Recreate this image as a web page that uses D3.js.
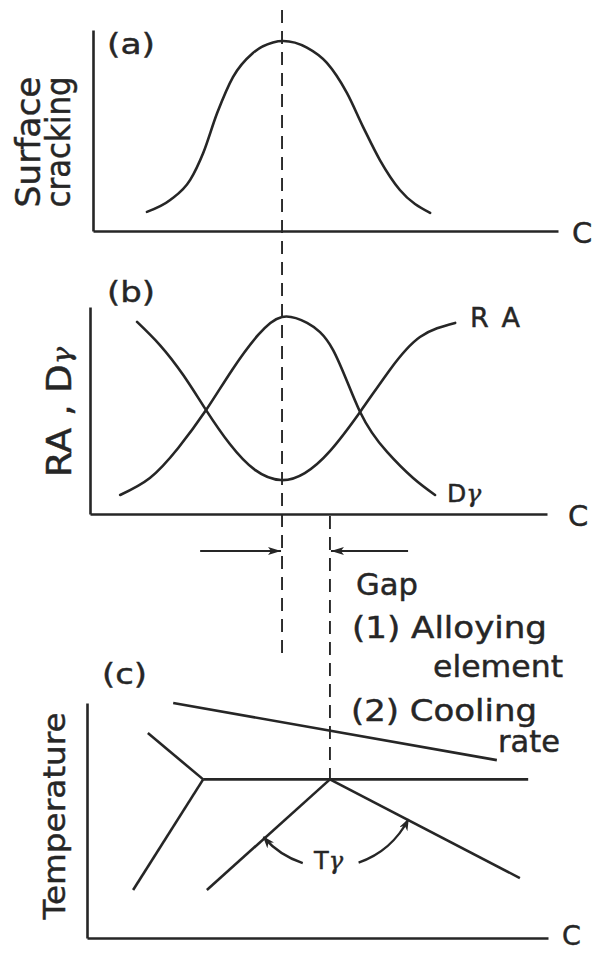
<!DOCTYPE html>
<html>
<head>
<meta charset="utf-8">
<script src="https://cdn.jsdelivr.net/npm/d3@7"></script>
<style>
  html, body { margin: 0; padding: 0; background: #fff; }
  svg { display: block; }
  text { font-family: "DejaVu Sans", sans-serif; fill: #262626; stroke: #262626; stroke-width: 0.45px; }
</style>
</head>
<body>
<div id="chart"></div>
<script>
// Schematic: effect of composition C on (a) surface cracking,
// (b) reduction of area RA and austenite grain size Dγ, (c) phase diagram.

// (a) surface cracking vs composition
const crackC   = [1.16, 1.66, 2.09, 2.37, 2.67, 3.01, 3.44, 3.87, 4.09, 4.60, 5.03, 5.46, 5.81, 6.17, 6.60, 7.25];
const crackVal = [0.95, 1.54, 2.54, 3.88, 5.87, 7.66, 8.86, 9.38, 9.45, 9.12, 8.36, 6.87, 5.17, 3.53, 2.04, 0.90];

// (b) reduction of area (RA) and austenite grain size (Dγ)
const raC    = [1.03, 1.53, 2.04, 2.54, 3.06, 3.61, 4.18, 4.70, 5.25, 5.91, 6.56, 7.22, 7.99];
const raVal  = [9.28, 8.16, 6.71, 5.02, 3.38, 2.13, 1.64, 1.98, 3.04, 4.93, 6.96, 8.55, 9.23];
const dgC    = [0.66, 1.31, 1.93, 2.54, 3.11, 3.68, 4.20, 4.75, 5.32, 5.91, 6.50, 7.07, 7.55];
const dgVal  = [0.92, 1.74, 3.19, 5.02, 6.96, 8.65, 9.52, 9.23, 7.92, 4.93, 3.00, 1.74, 0.92];

// (c) phase boundaries (composition, temperature), each a straight segment
const topLineC      = [1.87, 8.89], topLineT      = [10.0, 7.57];
const deltaLineC    = [1.32, 2.52], deltaLineT    = [8.72, 6.75];
const plateauC      = [2.52, 9.57], plateauT      = [6.75, 6.75];
const leftLowerC    = [2.52, 1.00], leftLowerT    = [6.75, 2.04];
const gammaLeftC    = [2.60, 5.27], gammaLeftT    = [2.04, 6.75];
const gammaRightC   = [5.27, 9.39], gammaRightT   = [6.75, 2.55];

// composition of the cracking peak and of the apex of the γ boundaries
const peakC = 4.18;     // panel (b) scale
const apexC = 5.27;     // panel (c) scale
const gapTailC = [2.41, 6.96]; // arrow tails, panel (b) scale

const W = 595, H = 953;
const ink = "#262626";

const svg = d3.select("#chart").append("svg")
  .attr("width", W).attr("height", H);
svg.append("rect").attr("width", W).attr("height", H).attr("fill", "#fff");

const defs = svg.append("defs");
defs.append("marker")
  .attr("id", "head").attr("viewBox", "0 0 13 8")
  .attr("refX", 13).attr("refY", 4)
  .attr("markerWidth", 13).attr("markerHeight", 8)
  .attr("markerUnits", "userSpaceOnUse").attr("orient", "auto")
  .append("path").attr("d", "M0,0 L13,4 L0,8 L3,4 Z").attr("fill", ink);
defs.append("marker")
  .attr("id", "headSmall").attr("viewBox", "0 0 12 9")
  .attr("refX", 11).attr("refY", 4.5)
  .attr("markerWidth", 12).attr("markerHeight", 9)
  .attr("markerUnits", "userSpaceOnUse").attr("orient", "auto")
  .append("path").attr("d", "M0,0 L12,4.5 L0,9 L3.5,4.5 Z").attr("fill", ink);

// panel layout
const layout = {
  a: { x0: 93, x1: 558, y0: 231, yTop: 30 },
  b: { x0: 90, x1: 547, y0: 514, yTop: 307 },
  c: { x0: 87, x1: 548, y0: 938, yTop: 703 }
};
const scales = {};
for (const k of Object.keys(layout)) {
  const L = layout[k];
  scales[k] = {
    x: d3.scaleLinear().domain([0, 10]).range([L.x0, L.x1]),
    y: d3.scaleLinear().domain([0, 10]).range([L.y0, L.yTop])
  };
}

function drawAxes(k) {
  const { x, y } = scales[k];
  const g = svg.append("g");
  g.append("g").attr("transform", `translate(0,${y(0)})`)
    .call(d3.axisBottom(x).tickValues([]).tickSizeOuter(0))
    .call(s => s.select(".domain").attr("stroke", ink).attr("stroke-width", 2.6));
  g.append("g").attr("transform", `translate(${x(0)},0)`)
    .call(d3.axisLeft(y).tickValues([]).tickSizeOuter(0))
    .call(s => s.select(".domain").attr("stroke", ink).attr("stroke-width", 2.6));
}
["a", "b", "c"].forEach(drawAxes);

function curve(k, cs, vs, interp) {
  const { x, y } = scales[k];
  const line = d3.line().x(d => x(d[0])).y(d => y(d[1])).curve(interp);
  svg.append("path").datum(d3.zip(cs, vs))
    .attr("d", line).attr("fill", "none")
    .attr("stroke", ink).attr("stroke-width", 2.6).attr("stroke-linecap", "round");
}
curve("a", crackC, crackVal, d3.curveMonotoneX);
curve("b", raC, raVal, d3.curveNatural);
curve("b", dgC, dgVal, d3.curveNatural);

const segs = [
  [topLineC, topLineT], [deltaLineC, deltaLineT], [plateauC, plateauT],
  [leftLowerC, leftLowerT], [gammaLeftC, gammaLeftT], [gammaRightC, gammaRightT]
];
{
  const { x, y } = scales.c;
  const line = d3.line().x(d => x(d[0])).y(d => y(d[1]));
  segs.forEach(([cs, ts]) => {
    svg.append("path").datum(d3.zip(cs, ts)).attr("d", line)
      .attr("fill", "none").attr("stroke", ink).attr("stroke-width", 2.6)
      .attr("stroke-linecap", "butt");
  });
}

// dashed guide lines
const xPeak = scales.b.x(peakC);
const xApex = scales.c.x(apexC);
const yApex = scales.c.y(plateauT[0]);
svg.append("line").attr("x1", xPeak + 1).attr("x2", xPeak + 1).attr("y1", 10).attr("y2", 657)
  .attr("stroke", ink).attr("stroke-width", 1.9).attr("stroke-dasharray", "13,8");
svg.append("line").attr("x1", xApex).attr("x2", xApex).attr("y1", 516).attr("y2", yApex)
  .attr("stroke", ink).attr("stroke-width", 1.9).attr("stroke-dasharray", "13,8");

// gap arrows
const yGap = 551;
svg.append("line").attr("x1", scales.b.x(gapTailC[0])).attr("x2", xPeak)
  .attr("y1", yGap).attr("y2", yGap).attr("stroke", ink).attr("stroke-width", 2.2)
  .attr("marker-end", "url(#head)");
svg.append("line").attr("x1", scales.b.x(gapTailC[1])).attr("x2", xApex + 1)
  .attr("y1", yGap).attr("y2", yGap).attr("stroke", ink).attr("stroke-width", 2.2)
  .attr("marker-end", "url(#head)");

// Tγ arcs pointing to both branches of the γ boundary
{
  const r = 88;
  const ang = a => [xApex + r * Math.cos(a), yApex + r * Math.sin(a)];
  const l0 = ang(108 * Math.PI / 180), l1 = ang(139 * Math.PI / 180);
  const r0 = ang(71 * Math.PI / 180), r1 = ang(27 * Math.PI / 180);
  svg.append("path").attr("d", `M${l0[0]},${l0[1]} A${r},${r} 0 0 1 ${l1[0]},${l1[1]}`)
    .attr("fill", "none").attr("stroke", ink).attr("stroke-width", 2.4)
    .attr("marker-end", "url(#headSmall)");
  svg.append("path").attr("d", `M${r0[0]},${r0[1]} A${r},${r} 0 0 0 ${r1[0]},${r1[1]}`)
    .attr("fill", "none").attr("stroke", ink).attr("stroke-width", 2.4)
    .attr("marker-end", "url(#headSmall)");
}

// text
function label(txt, x, y, size, len, opts = {}) {
  const t = svg.append("text").attr("x", x).attr("y", y).attr("font-size", size);
  if (opts.rotate) {
    t.attr("x", 0).attr("y", 0)
      .attr("transform", `translate(${x},${y}) rotate(-90)`)
      .attr("text-anchor", "middle");
  }
  if (len) t.attr("textLength", len).attr("lengthAdjust", opts.spacing ? "spacing" : "spacingAndGlyphs");
  if (typeof txt === "string") t.text(txt);
  else txt(t);
  return t;
}
const gammaSpan = (t, size) => t.append("tspan").text("γ")
  .attr("font-style", "italic").attr("font-family", "DejaVu Serif").attr("font-size", size);

label("(a)", 107, 54, 29, 48);
label("(b)", 107, 302, 29, 48);
label("(c)", 102, 684, 29, 45);

label("C", 572, 243, 29);
label("C", 568, 526, 29);
label("C", 562, 945, 27);

label("Surface", 40, 142, 34, 131, { rotate: true });
label("cracking", 70, 142, 33, 131, { rotate: true });
label(t => {
  t.append("tspan").text("RA , D");
  gammaSpan(t, 26);
}, 71, 412, 33, 130, { rotate: true });
label("Temperature", 65, 816, 31, 207, { rotate: true });

label("RA", 470, 327, 27, 50, { spacing: true });
label(t => {
  t.append("tspan").text("D");
  gammaSpan(t, 25);
}, 447, 502, 25);

label("Gap", 356, 595, 30, 62);
label("(1) Alloying", 352, 638, 30, 195);
label("element", 433, 677, 30, 130);
label("(2) Cooling", 351, 721, 30, 186);
label("rate", 498, 752, 30, 62);

label(t => {
  t.append("tspan").text("T");
  gammaSpan(t, 24);
}, 314, 869, 24);
</script>
</body>
</html>
